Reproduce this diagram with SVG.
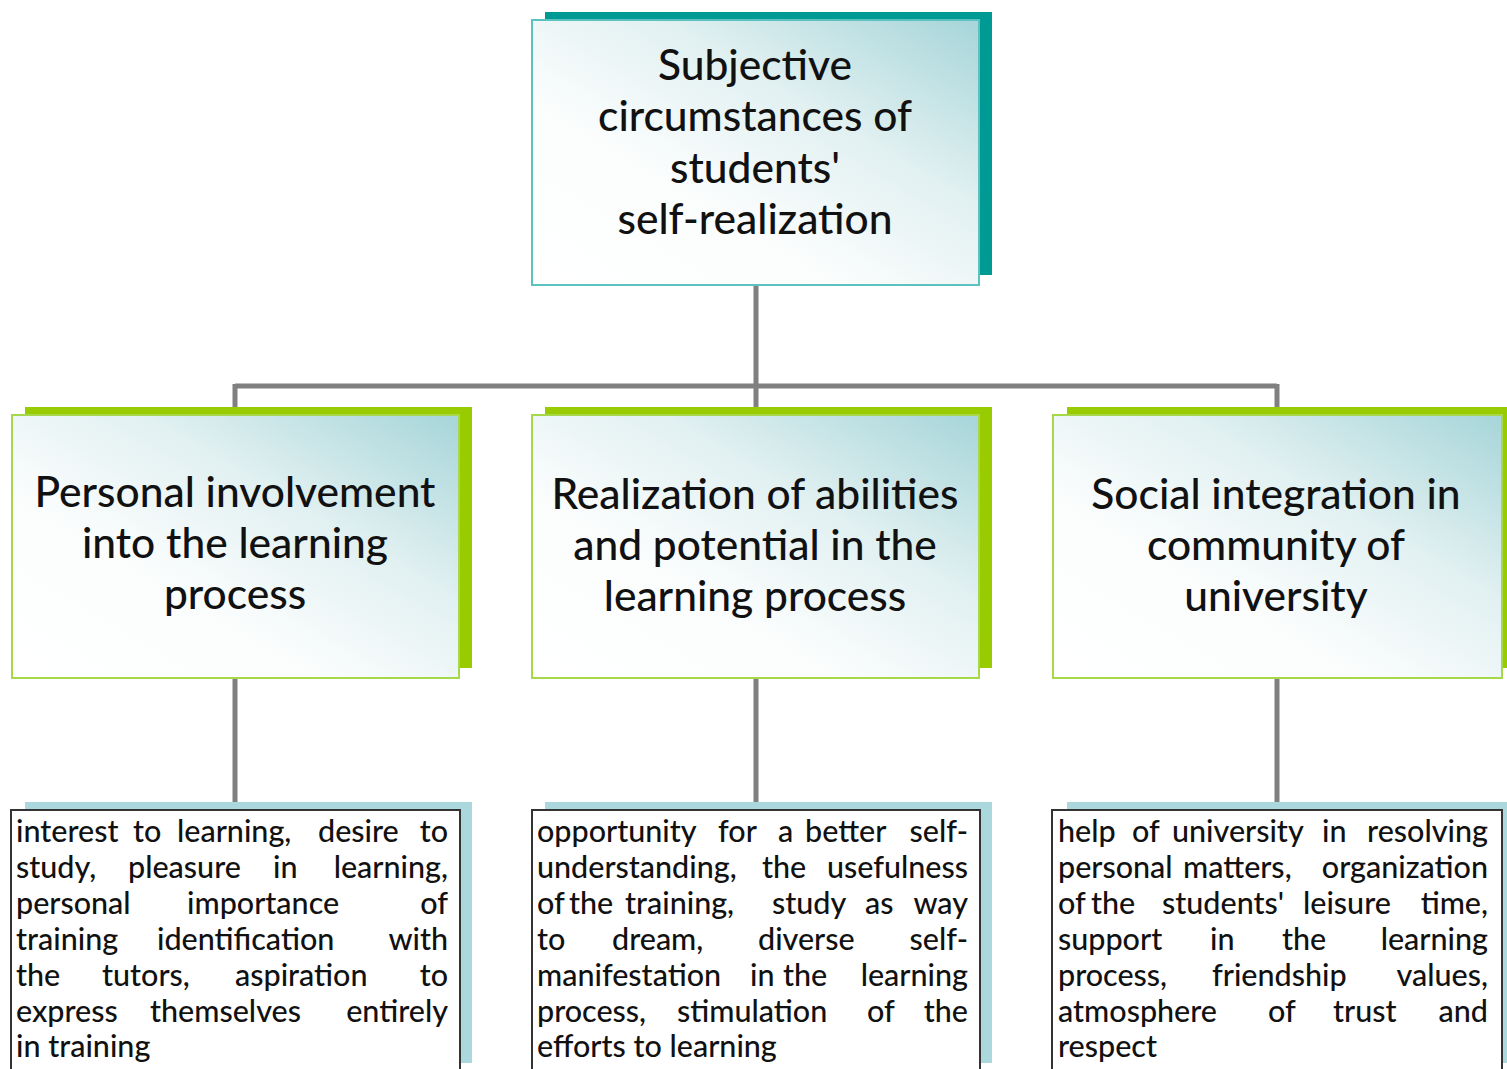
<svg xmlns="http://www.w3.org/2000/svg" width="1507" height="1069" viewBox="0 0 1507 1069">
<defs>
<linearGradient id="g" x1="0" y1="1" x2="1" y2="0">
<stop offset="0" stop-color="#ffffff"/>
<stop offset="0.35" stop-color="#fbfdfd"/>
<stop offset="0.65" stop-color="#e1f0f1"/>
<stop offset="1" stop-color="#a6d5d9"/>
</linearGradient>
<style>
.conn{stroke:#808080;stroke-width:5;fill:none}
.sh-top{fill:#009a95}
.sh-mid{fill:#99cc00}
.sh-bot{fill:#aad8dc}
.box-top{fill:url(#g);stroke:#5cc2c0;stroke-width:2}
.box-mid{fill:url(#g);stroke:#a6d84a;stroke-width:2}
.box-bot{fill:#ffffff;stroke:#333333;stroke-width:2}
.h{font-family:Lato,"Liberation Sans",sans-serif;font-size:42.5px;font-weight:500;fill:#111111;text-anchor:middle}
.b{font-family:Lato,"Liberation Sans",sans-serif;font-size:30.5px;font-weight:500;fill:#111111}
.e{text-anchor:end}
</style>
</defs>
<rect width="1507" height="1069" fill="#ffffff"/>
<g id="connectors">
<path class="conn" d="M756 285V386M235 386H1277M235 384V408M756 386V408M1277 384V408"/>
<path class="conn" d="M235 678V803M756 678V803M1277 678V803"/>
</g>
<g id="n-top">
<rect class="sh-top" x="545" y="12" width="447" height="263"/>
<rect class="box-top" x="532" y="20" width="447" height="265"/>
<text class="h" x="755" y="80">Subjective</text>
<text class="h" x="755" y="131">circumstances of</text>
<text class="h" x="755" y="183">students'</text>
<text class="h" x="755" y="234">self-realization</text>
</g>
<g id="n-personal">
<rect class="sh-mid" x="25" y="407" width="447" height="261"/>
<rect class="box-mid" x="12" y="415" width="447" height="263"/>
<text class="h" x="235" y="507">Personal involvement</text>
<text class="h" x="235" y="558">into the learning</text>
<text class="h" x="235" y="609">process</text>
</g>
<g id="n-realization">
<rect class="sh-mid" x="545" y="407" width="447" height="261"/>
<rect class="box-mid" x="532" y="415" width="447" height="263"/>
<text class="h" x="755" y="509">Realization of abilities</text>
<text class="h" x="755" y="560">and potential in the</text>
<text class="h" x="755" y="611">learning process</text>
</g>
<g id="n-social">
<rect class="sh-mid" x="1067" y="407" width="445" height="261"/>
<rect class="box-mid" x="1053" y="415" width="449" height="263"/>
<text class="h" x="1276" y="509">Social integration in</text>
<text class="h" x="1276" y="560">community of</text>
<text class="h" x="1276" y="611">university</text>
</g>
<g id="d-personal">
<rect class="sh-bot" x="25" y="802" width="447" height="261"/>
<rect class="box-bot" x="11" y="810" width="449" height="270"/>
<g class="b">
<text x="16" y="842">interest</text><text x="133" y="842">to</text><text x="177" y="842">learning,</text><text x="318" y="842">desire</text><text class="e" x="448" y="842">to</text>
<text x="16" y="878">study,</text><text x="128" y="878">pleasure</text><text x="273" y="878">in</text><text class="e" x="448" y="878">learning,</text>
<text x="16" y="914">personal</text><text x="187" y="914">importance</text><text class="e" x="448" y="914">of</text>
<text x="16" y="950">training</text><text x="157" y="950">identification</text><text class="e" x="448" y="950">with</text>
<text x="16" y="986">the</text><text x="102" y="986">tutors,</text><text x="235" y="986">aspiration</text><text class="e" x="448" y="986">to</text>
<text x="16" y="1022">express</text><text x="150" y="1022">themselves</text><text class="e" x="448" y="1022">entirely</text>
<text x="16" y="1057">in training</text>
</g>
</g>
<g id="d-realization">
<rect class="sh-bot" x="545" y="802" width="447" height="261"/>
<rect class="box-bot" x="532" y="810" width="448" height="270"/>
<g class="b">
<text x="537" y="842">opportunity</text><text x="718" y="842">for</text><text x="778" y="842">a</text><text x="805" y="842">better</text><text class="e" x="968" y="842">self-</text>
<text x="537" y="878">understanding,</text><text x="762" y="878">the</text><text class="e" x="968" y="878">usefulness</text>
<text x="537" y="914">of</text><text x="569" y="914">the</text><text x="625" y="914">training,</text><text x="772" y="914">study</text><text x="865" y="914">as</text><text class="e" x="968" y="914">way</text>
<text x="537" y="950">to</text><text x="612" y="950">dream,</text><text x="758" y="950">diverse</text><text class="e" x="968" y="950">self-</text>
<text x="537" y="986">manifestation</text><text x="750" y="986">in</text><text x="783" y="986">the</text><text class="e" x="968" y="986">learning</text>
<text x="537" y="1022">process,</text><text x="677" y="1022">stimulation</text><text x="867" y="1022">of</text><text class="e" x="968" y="1022">the</text>
<text x="537" y="1057">efforts to learning</text>
</g>
</g>
<g id="d-social">
<rect class="sh-bot" x="1067" y="802" width="445" height="261"/>
<rect class="box-bot" x="1052" y="810" width="450" height="270"/>
<g class="b">
<text x="1058" y="842">help</text><text x="1132" y="842">of</text><text x="1172" y="842">university</text><text x="1322" y="842">in</text><text class="e" x="1488" y="842">resolving</text>
<text x="1058" y="878">personal</text><text x="1183" y="878">matters,</text><text class="e" x="1488" y="878">organization</text>
<text x="1058" y="914">of</text><text x="1091" y="914">the</text><text x="1162" y="914">students'</text><text x="1303" y="914">leisure</text><text class="e" x="1488" y="914">time,</text>
<text x="1058" y="950">support</text><text x="1210" y="950">in</text><text x="1282" y="950">the</text><text class="e" x="1488" y="950">learning</text>
<text x="1058" y="986">process,</text><text x="1212" y="986">friendship</text><text class="e" x="1488" y="986">values,</text>
<text x="1058" y="1022">atmosphere</text><text x="1268" y="1022">of</text><text x="1333" y="1022">trust</text><text class="e" x="1488" y="1022">and</text>
<text x="1058" y="1057">respect</text>
</g>
</g>
</svg>
